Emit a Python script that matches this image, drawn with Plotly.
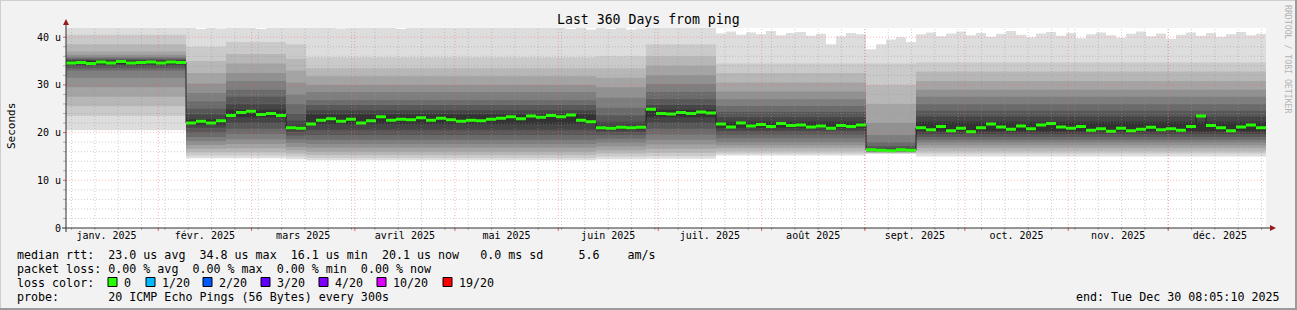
import pandas as pd
import plotly.graph_objects as go

# ---------------- data ----------------
START = pd.Timestamp("2025-01-04 08:05:10")
END = pd.Timestamp("2025-12-30 08:05:10")
STEP_DAYS = 3
Y_TOP = 41.93

# median rtt (microseconds) per 3-day step
median_us = [
    34.6, 34.7, 34.5, 34.8, 34.6, 34.9, 34.6, 34.7, 34.8, 34.6, 34.8, 34.7,
    22.0, 22.4, 22.0, 22.5,
    23.6, 24.2, 24.5, 23.8, 24.0, 23.6,
    21.0, 20.9,
    21.8, 22.6, 22.9, 22.4, 22.8, 22.0, 22.5, 23.3, 22.6, 22.8, 22.7, 23.1, 22.6, 23.0,
    22.7, 22.4, 22.6, 22.5, 22.8, 23.0, 23.3, 22.9, 23.5, 23.2, 23.6, 23.3, 23.7, 22.6, 22.3,
    21.0, 20.9, 21.1, 21.0, 21.1,
    24.9, 24.0, 23.9, 24.2, 24.0, 24.3, 24.1,
    21.8, 21.2, 22.0, 21.4, 21.7, 21.3, 21.9, 21.5, 21.6, 21.2, 21.4, 20.9, 21.5, 21.3, 21.6,
    16.4, 16.3, 16.2, 16.4, 16.3,
    21.0, 20.6, 21.3, 20.4, 20.9, 20.2, 21.0, 21.8, 21.2, 20.7, 21.4, 20.8, 21.6, 21.9, 21.2,
    20.9, 21.3, 20.5, 20.8, 20.3, 20.9, 20.4, 20.7, 21.1, 20.6, 20.8, 20.5, 21.3, 23.5, 21.5,
    21.0, 20.4, 21.2, 21.6, 21.0,
]

# slowest ping of each step (top of the outer smoke band)
ping_max_us = [
    43.0, 43.0, 43.0, 43.0, 43.0, 43.0, 43.0, 43.0, 43.0, 43.0, 43.0, 43.0,
    43.0, 41.7, 43.0, 41.8, 43.0, 43.0, 43.0, 41.7, 43.0, 43.0,
    43.0, 43.0, 43.0, 43.0, 43.0, 41.8, 43.0, 43.0, 43.0, 43.0,
    43.0, 41.7, 43.0, 43.0, 43.0, 43.0, 43.0, 43.0, 43.0, 43.0,
    43.0, 43.0, 43.0, 43.0, 43.0, 43.0, 43.0, 43.0, 41.7, 43.0,
    41.6, 43.0, 41.7, 43.0, 41.6, 41.8, 43.0, 43.0, 43.0, 43.0,
    43.0, 43.0, 43.0,
    40.8, 41.2, 40.5, 41.0, 40.6, 41.3, 40.4, 40.9, 41.1, 40.3, 40.7, 38.5, 40.2, 40.9, 40.6,
    37.5, 38.5, 39.5, 40.0, 39.0,
    40.6, 41.0, 40.2, 40.8, 41.2, 40.4, 40.9, 40.1, 40.7, 41.3, 40.5, 40.0, 40.8, 41.1, 40.3,
    40.9, 39.8, 40.6, 41.0, 40.4, 39.9, 40.7, 41.2, 40.2, 40.8, 39.6, 40.5, 41.0, 40.3, 40.9,
    40.1, 40.6, 41.1, 40.4, 40.7,
]

# smoke regimes: first step of each regime, sorted ping values p1..p10 and p11..p19
regime_first_step = [0, 12, 16, 22, 24, 53, 58, 65, 80, 85]
regime_lower = [
    [20.5, 23.5, 25.5, 27.5, 29.5, 31.5, 33.0, 33.5, 34.0, 34.4],
    [14.6, 15.2, 15.9, 16.6, 17.4, 18.2, 19.1, 20.0, 21.0, 21.7],
    [14.6, 15.2, 15.9, 16.7, 17.6, 18.6, 19.7, 20.8, 22.0, 23.2],
    [14.4, 15.0, 15.6, 16.3, 17.0, 17.8, 18.6, 19.4, 20.2, 20.7],
    [14.2, 14.7, 15.3, 16.0, 16.8, 17.6, 18.5, 19.5, 20.6, 21.8],
    [14.4, 15.0, 15.6, 16.3, 17.1, 17.9, 18.7, 19.5, 20.2, 20.7],
    [14.5, 15.1, 15.8, 16.6, 17.5, 18.5, 19.6, 20.8, 22.0, 23.2],
    [15.2, 15.6, 16.1, 16.7, 17.3, 18.0, 18.8, 19.6, 20.4, 21.0],
    [15.5, 15.7, 15.8, 15.9, 16.0, 16.05, 16.1, 16.15, 16.2, 16.25],
    [15.0, 15.6, 16.1, 16.7, 17.3, 17.9, 18.5, 19.1, 19.7, 20.3],
]
regime_upper = [
    [35.0, 35.2, 35.4, 35.6, 35.9, 36.3, 37.0, 38.5, 40.5],
    [22.8, 23.8, 25.0, 26.5, 28.3, 30.3, 32.5, 35.0, 38.0],
    [24.8, 26.0, 27.5, 29.0, 30.8, 32.5, 34.5, 36.5, 39.0],
    [21.4, 22.5, 24.0, 26.0, 28.0, 30.5, 33.0, 35.5, 38.5],
    [23.8, 24.7, 25.8, 26.8, 28.5, 30.0, 31.8, 33.5, 35.8],
    [21.4, 22.3, 23.6, 25.2, 27.3, 29.5, 31.5, 33.5, 36.0],
    [24.8, 25.8, 27.0, 28.5, 30.2, 32.0, 34.0, 36.0, 38.5],
    [22.3, 23.2, 24.3, 25.6, 27.0, 28.6, 30.5, 32.5, 34.5],
    [16.4, 16.7, 17.2, 18.0, 19.5, 22.0, 26.0, 30.0, 34.5],
    [22.3, 23.4, 24.6, 26.0, 27.5, 29.0, 30.8, 32.8, 34.7],
]

month_labels = ["janv. 2025", "févr. 2025", "mars 2025", "avril 2025", "mai 2025", "juin 2025",
                "juil. 2025", "août 2025", "sept. 2025", "oct. 2025", "nov. 2025", "déc. 2025"]
y_tick_values = [0, 10, 20, 30, 40]
y_tick_text = ["0", "10 u", "20 u", "30 u", "40 u"]

title_text = "Last 360 Days from ping"
line_median = "median rtt:  23.0 us avg  34.8 us max  16.1 us min  20.1 us now   0.0 ms sd     5.6    am/s"
line_loss = "packet loss: 0.00 % avg  0.00 % max  0.00 % min  0.00 % now"
line_probe = "probe:       20 ICMP Echo Pings (56 Bytes) every 300s"
line_end = "end: Tue Dec 30 08:05:10 2025"
loss_labels = ["0", "1/20", "2/20", "3/20", "4/20", "10/20", "19/20"]
loss_colors = ["#26ff00", "#00b8ff", "#0059ff", "#5e00ff", "#7e00ff", "#dd00ff", "#ff0000"]

assert len(median_us) == 120 and len(ping_max_us) == 120

# ---------------- geometry ----------------
W, H = 1297, 310
PL, PR, PT, PB = 66, 1266, 28, 228
MONO = "DejaVu Sans Mono"


def px(x):
    return (x - PL) / (PR - PL)


def py(y):
    return (PB - y) / (PB - PT)


n = len(median_us)
times = [START + pd.Timedelta(days=STEP_DAYS * k) for k in range(n)] + [END]
regime_of_step = []
for k in range(n):
    r = 0
    for i, s in enumerate(regime_first_step):
        if s <= k:
            r = i
    regime_of_step.append(r)

fig = go.Figure()

# smoke: nested bands, outer (light) to inner (dark)
for j in range(10):
    lo = [regime_lower[regime_of_step[k]][j] for k in range(n)]
    if j == 0:
        hi = list(ping_max_us)
    else:
        hi = [regime_upper[regime_of_step[k]][9 - j] for k in range(n)]
    lo = lo + [lo[-1]]
    hi = hi + [hi[-1]]
    g = 221 - 19 * j
    col = f"rgb({g},{g},{g})"
    fig.add_trace(go.Scatter(x=times, y=lo, mode="lines", line=dict(width=0, shape="hv"),
                             showlegend=False, hoverinfo="skip"))
    fig.add_trace(go.Scatter(x=times, y=hi, mode="lines", line=dict(width=0, shape="hv"),
                             fill="tonexty", fillcolor=col, showlegend=False, hoverinfo="skip"))

med = median_us + [median_us[-1]]
fig.add_trace(go.Scatter(x=times, y=med, mode="lines", line=dict(width=1, color="#202020", shape="hv"),
                         showlegend=False, hoverinfo="skip"))
half = 1.5 * Y_TOP / (PB - PT)
fig.add_trace(go.Scatter(x=times, y=[v - half for v in med], mode="lines",
                         line=dict(width=0, shape="hv"), showlegend=False, hoverinfo="skip"))
fig.add_trace(go.Scatter(x=times, y=[v + half for v in med], mode="lines",
                         line=dict(width=0, shape="hv"), fill="tonexty", fillcolor=loss_colors[0],
                         showlegend=False, hoverinfo="skip"))

# ---------------- grid (above the smoke, like rrdtool) ----------------
shapes = []
minor_col = "rgba(150,150,150,0.45)"
major_col = "rgba(255,90,90,0.45)"
week = pd.Timestamp("2025-01-06")
while week < END:
    shapes.append(dict(type="line", xref="x", yref="paper", x0=week, x1=week, y0=0, y1=1,
                       line=dict(color=minor_col, width=1, dash="1px,2px"), layer="above"))
    shapes.append(dict(type="line", xref="x", yref="paper", x0=week, x1=week, y0=0, y1=-2 / 200,
                       line=dict(color="#b0b0b0", width=1), layer="above"))
    week += pd.Timedelta(days=7)
month_starts = pd.date_range("2025-02-01", "2025-12-01", freq="MS")
for m in month_starts:
    shapes.append(dict(type="line", xref="x", yref="paper", x0=m, x1=m, y0=0, y1=1,
                       line=dict(color=major_col, width=1, dash="1px,2px"), layer="above"))
    shapes.append(dict(type="line", xref="x", yref="paper", x0=m, x1=m, y0=0, y1=-3 / 200,
                       line=dict(color="#e06060", width=1), layer="above"))
for v in range(2, 42, 2):
    major = v % 10 == 0
    shapes.append(dict(type="line", xref="paper", yref="y", x0=0, x1=1, y0=v, y1=v,
                       line=dict(color=major_col if major else minor_col, width=1, dash="1px,2px"),
                       layer="above"))
    shapes.append(dict(type="line", xref="paper", yref="y", x0=0, x1=-3 / 1200, y0=v, y1=v,
                       line=dict(color="#e06060" if major else "#b0b0b0", width=1), layer="above"))

# axes lines + arrows
axis_col = "#303030"
arrow_col = "#9a1a1a"
shapes.append(dict(type="line", xref="paper", yref="paper", x0=px(PL - 4), x1=px(1271), y0=0, y1=0,
                   line=dict(color=axis_col, width=1), layer="above"))
shapes.append(dict(type="line", xref="paper", yref="paper", x0=0, x1=0, y0=py(PB + 4), y1=py(24),
                   line=dict(color=axis_col, width=1), layer="above"))
shapes.append(dict(type="path", xref="paper", yref="paper",
                   path=f"M {px(1270)} {py(PB - 3)} L {px(1276)} {py(PB)} L {px(1270)} {py(PB + 3)} Z",
                   fillcolor=arrow_col, line=dict(width=0), layer="above"))
shapes.append(dict(type="path", xref="paper", yref="paper",
                   path=f"M {px(PL - 3)} {py(25)} L {px(PL)} {py(19)} L {px(PL + 3)} {py(25)} Z",
                   fillcolor=arrow_col, line=dict(width=0), layer="above"))

# frame of the image
shapes.append(dict(type="line", xref="paper", yref="paper", x0=px(0), x1=px(W), y0=py(0.5), y1=py(0.5),
                   line=dict(color="#cfcfcf", width=1)))
shapes.append(dict(type="line", xref="paper", yref="paper", x0=px(0.5), x1=px(0.5), y0=py(0), y1=py(H),
                   line=dict(color="#cfcfcf", width=1)))
shapes.append(dict(type="line", xref="paper", yref="paper", x0=px(0), x1=px(W), y0=py(H - 1), y1=py(H - 1),
                   line=dict(color="#9a9a9a", width=2)))
shapes.append(dict(type="line", xref="paper", yref="paper", x0=px(W - 1), x1=px(W - 1), y0=py(0), y1=py(H),
                   line=dict(color="#9a9a9a", width=2)))

# loss colour boxes
box_left = [108, 146, 203, 261, 319, 377, 443]
for bx, c in zip(box_left, loss_colors):
    shapes.append(dict(type="rect", xref="paper", yref="paper", x0=px(bx), x1=px(bx + 9),
                       y0=py(286.5), y1=py(277.5), fillcolor=c, line=dict(color="#000000", width=1)))

# ---------------- text ----------------
ann = []


def text(s, x, y, size, anchor="left", color="#000000", angle=0):
    ann.append(dict(text=s, x=px(x), y=py(y), xref="paper", yref="paper", xanchor=anchor,
                    yanchor="middle", showarrow=False, textangle=angle, borderpad=0,
                    font=dict(family=MONO, size=size, color=color)))


text(title_text, 648.5, 19, 13.2, "center")
text("Seconds", 11, 126, 11, "center", angle=-90)
text("RRDTOOL / TOBI OETIKER", 1288, 59, 8.2, "center", color="#b4b4b4", angle=90)
text(line_median, 16, 254.5, 11.66)
text(line_loss, 16, 268.5, 11.66)
text("loss color:", 16, 282.5, 11.66)
for bx, lab in zip(box_left, loss_labels):
    text(lab, bx + 15, 282.5, 11.66)
text(line_probe, 16, 296.5, 11.66)
text(line_end, 1281, 296.5, 11.66, "right")

month_mid = [m + (m + pd.offsets.MonthBegin(1) - m) / 2 for m in pd.date_range("2025-01-01", "2025-12-01", freq="MS")]

fig.update_layout(
    width=W, height=H, autosize=False,
    margin=dict(l=PL, r=W - PR, t=PT, b=H - PB, pad=0),
    paper_bgcolor="#f2f2f2", plot_bgcolor="#ffffff",
    shapes=shapes, annotations=ann, showlegend=False,
    font=dict(family=MONO, color="#000000"),
    xaxis=dict(range=[START, END], showgrid=False, zeroline=False, showline=False,
               tickmode="array", tickvals=month_mid, ticktext=month_labels, ticks="",
               tickfont=dict(family=MONO, size=10, color="#000000"), fixedrange=True),
    yaxis=dict(range=[0, Y_TOP], showgrid=False, zeroline=False, showline=False,
               tickmode="array", tickvals=y_tick_values, ticktext=y_tick_text, ticks="",
               ticklabelstandoff=4,
               tickfont=dict(family=MONO, size=10, color="#000000"), fixedrange=True),
)

fig.write_html("out.html")
